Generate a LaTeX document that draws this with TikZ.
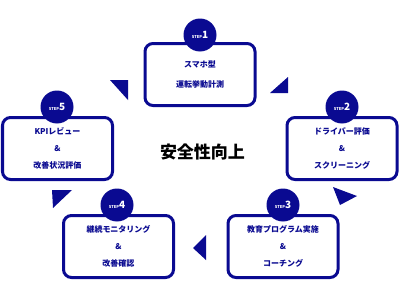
\documentclass[tikz,border=0pt]{standalone}
\usepackage{fontspec}
\setmainfont{Noto Sans CJK JP}
\usetikzlibrary{positioning}
\definecolor{Navy}{HTML}{0A0A91}

\begin{document}
\begin{tikzpicture}[x=1pt,y=-1pt,
    stepbox/.style={draw=Navy,line width=3pt,rounded corners=8pt,fill=white,
      minimum width=110pt,minimum height=62pt,align=center,text=Navy,
      font=\fontsize{8}{17}\selectfont\bfseries},
    badge/.style={circle,fill=Navy,minimum size=33pt,inner sep=0pt,text=white,
      font=\bfseries},
    tri/.style={fill=Navy}
  ]
    \useasboundingbox (0,0) rectangle (400,300);
    % boxes
    \node[stepbox] (step1) at (200,74.5) {スマホ型\\[3pt]運転挙動計測};
    \node[stepbox] (step2) at (342,148.5) {ドライバー評価\\\&\\スクリーニング};
    \node[stepbox] (step3) at (283,246.5) {教育プログラム実施\\\&\\コーチング};
    \node[stepbox] (step4) at (118.5,246.5) {継続モニタリング\\\&\\改善確認};
    \node[stepbox] (step5) at (57.5,148.5) {KPIレビュー\\\&\\改善状況評価};
    % badges
    \foreach \n/\bx/\by in {1/200/35,2/342/107,3/283/205,4/117/205,5/57/107}
      \node[badge] (badge\n) at (\bx,\by)
        {\fontsize{4}{4}\selectfont STEP\fontsize{10}{10}\selectfont\n};
    % centre
    \node[font=\fontsize{17}{17}\selectfont\bfseries] (goal) at (202.5,152.5) {安全性向上};
    % arrow marks
    \fill[tri] (110,80) -- (128,80) -- (128,100) -- cycle;
    \fill[tri] (270,93) -- (288,77) -- (288,93) -- cycle;
    \fill[tri] (333,187) -- (357,196) -- (340,205) -- cycle;
    \fill[tri] (206,235) -- (193,248) -- (206,260) -- cycle;
    \fill[tri] (52,190) -- (72,190) -- (53,208) -- cycle;
  \end{tikzpicture}
\end{document}
